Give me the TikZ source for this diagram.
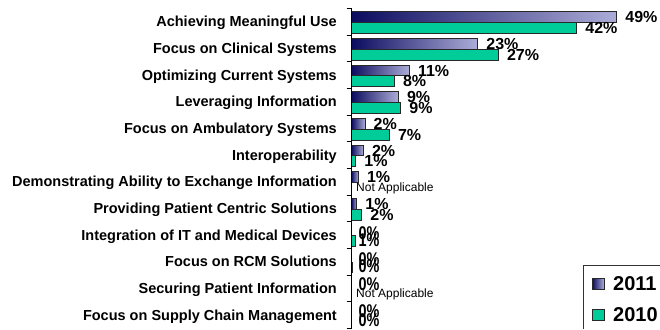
\documentclass[tikz,border=0pt]{standalone}
\usepackage{fontspec}
\setmainfont{Liberation Sans}
\definecolor{navyd}{RGB}{12,12,96}
\definecolor{lav}{RGB}{172,172,216}
\definecolor{teal10}{RGB}{0,204,153}
\definecolor{edge}{RGB}{40,40,40}
\newcommand{\tallpct}[1]{\scalebox{0.9}[1.15]{#1}}
\begin{document}
\begin{tikzpicture}[x=1pt,y=-1pt,
  catlbl/.style={anchor=base east,inner sep=0pt,font=\bfseries\fontsize{14.5}{16}\selectfont},
  pct/.style={anchor=base west,inner sep=0pt,font=\bfseries\fontsize{16}{18}\selectfont},
  pcttall/.style={anchor=west,inner sep=0pt,font=\bfseries\fontsize{16}{18}\selectfont},
  na/.style={anchor=west,inner sep=0pt,font=\fontsize{12}{14}\selectfont},
  legtxt/.style={anchor=base west,inner sep=0pt,font=\bfseries\fontsize{20}{22}\selectfont},
  bar11/.style={draw=edge,line width=0.8pt,left color=navyd,right color=lav},
  bar10/.style={draw=edge,line width=0.8pt,fill=teal10},
]
\useasboundingbox (0,0) rectangle (660,329);
% category labels
\foreach \i/\txt in {0/Achieving Meaningful Use,1/Focus on Clinical Systems,2/Optimizing Current Systems,3/Leveraging Information~,4/Focus on Ambulatory Systems,5/Interoperability,6/Demonstrating Ability to Exchange Information,7/Providing Patient Centric Solutions,8/Integration of IT and Medical Devices,9/Focus on RCM Solutions,10/Securing Patient Information,11/Focus on Supply Chain Management}{
  \node[catlbl] (c\i) at (337,{8.3+26.67*\i+18.5}) {\txt};
}
% 2011 bars
\foreach \i/\e/\p in {0/616.7/49,1/477.7/23,2/409.3/11,3/398.3/9,4/365/2,5/363.3/2,6/358.3/1,7/356.7/1}{
  \pgfmathsetmacro\t{8.3+26.67*\i}
  \path[bar11] (351.5,{\t+3.4}) rectangle (\e,{\t+14});
  \node[pct] (a\i) at ({\e+8.5},{\t+14.45}) {\p\%};
}
% 2010 bars
\foreach \i/\e/\p in {0/576.7/42,1/498.3/27,2/394.3/8,3/400.7/9,4/389.3/7,5/355.7/1,7/361.7/2}{
  \pgfmathsetmacro\t{8.3+26.67*\i}
  \path[bar10] (351.5,{\t+14}) rectangle (\e,{\t+25});
  \node[pct] (b\i) at ({\e+8.5},{\t+25.25}) {\p\%};
}
\path[bar10] (351.5,{8.3+26.67*8+14}) rectangle (355,{8.3+26.67*8+25});
\fill[edge] (351,{8.3+26.67*9+14}) rectangle (353.2,{8.3+26.67*9+25});
% small-value labels (drawn taller, closer together)
\node[pcttall] (a8) at (358.3,{8.3+26.67*8+11.6}) {\tallpct{0\%}};
\node[pcttall] (b8) at (358.3,{8.3+26.67*8+18.1}) {\tallpct{1\%}};
\node[pcttall] (a9) at (358.3,{8.3+26.67*9+10.4}) {\tallpct{0\%}};
\node[pcttall] (b9) at (358.3,{8.3+26.67*9+18}) {\tallpct{0\%}};
\node[pcttall] (a10) at (358.3,{8.3+26.67*10+9}) {\tallpct{0\%}};
\node[pcttall] (a11) at (358.3,{8.3+26.67*11+9.5}) {\tallpct{0\%}};
\node[pcttall] (b11) at (358.3,{8.3+26.67*11+18}) {\tallpct{0\%}};
\node[na] (na6) at (356,{8.3+26.67*6+19.8}) {Not Applicable};
\node[na] (na10) at (356,{8.3+26.67*10+19.8}) {Not Applicable};
% axis
\draw[line width=0.8pt] (351.5,8.3) -- (351.5,329);
\foreach \k in {0,...,12}{
  \draw[line width=0.8pt] (346.5,{8.3+26.67*\k}) -- (351.5,{8.3+26.67*\k});
}
% legend
\draw[line width=0.8pt,black!80] (583.5,329) -- (583.5,265.5) -- (660,265.5);
\path[draw=edge,line width=0.8pt,left color=navyd,right color=lav] (592.3,278.3) rectangle (604,289);
\path[draw=edge,line width=0.8pt,fill=teal10] (592.3,309.3) rectangle (604,320.7);
\node[legtxt] (l11) at (613,290.7) {2011};
\node[legtxt] (l10) at (613,321.7) {2010};
\end{tikzpicture}
\end{document}
